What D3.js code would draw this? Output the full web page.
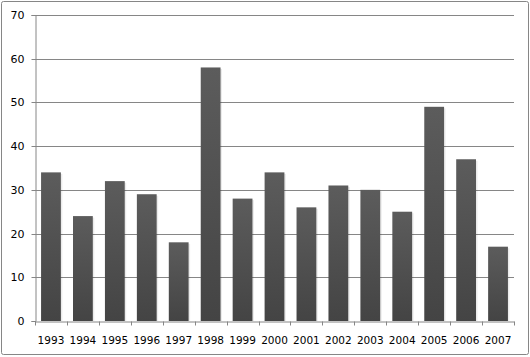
<!DOCTYPE html>
<html><head><meta charset="utf-8">
<script src="https://cdn.jsdelivr.net/npm/d3@7"></script>
<style>body{margin:0;background:#fff}svg{display:block}</style>
</head><body>
<script>
const categories = ["1993","1994","1995","1996","1997","1998","1999","2000","2001","2002","2003","2004","2005","2006","2007"];
const values = [34,24,32,29,18,58,28,34,26,31,30,25,49,37,17];
const yTicks = [0,10,20,30,40,50,60,70];

const W = 530, H = 357;
const m = {left:35, right:16, top:15, bottom:36};
const svg = d3.select("body").append("svg").attr("width",W).attr("height",H);

const defs = svg.append("defs");
const g1 = defs.append("linearGradient").attr("id","barg").attr("x1",0).attr("y1",0).attr("x2",0).attr("y2",1);
g1.append("stop").attr("offset","0%").attr("stop-color","#5c5c5c");
g1.append("stop").attr("offset","100%").attr("stop-color","#444444");

svg.append("rect").attr("x",1.5).attr("y",1.5).attr("width",527).attr("height",353)
  .attr("rx",2).attr("fill","#fff").attr("stroke","#868686");

const x = d3.scaleBand().domain(categories).range([m.left, W-m.right]).paddingInner(0.38).paddingOuter(0.19);
const xt = d3.scaleBand().domain(categories).range([m.left, W-m.right]).padding(0);
const y = d3.scaleLinear().domain([0,70]).range([H-m.bottom, m.top]);

// gridlines
svg.append("g").selectAll("line").data(yTicks.filter(d=>d>0)).join("line")
  .attr("x1",m.left).attr("x2",W-m.right)
  .attr("y1",d=>Math.round(y(d))+0.5).attr("y2",d=>Math.round(y(d))+0.5)
  .attr("stroke","#868686").attr("stroke-width",1);

// bar shadows
svg.append("g").selectAll("rect").data(values).join("rect")
  .attr("x",(d,i)=>x(categories[i])+1.5).attr("y",d=>y(d)+1.5)
  .attr("width",x.bandwidth()).attr("height",d=>y(0)-y(d)-1.5)
  .attr("fill","#000").attr("opacity",0.08);

svg.append("g").selectAll("rect").data(values).join("rect")
  .attr("x",(d,i)=>x(categories[i])).attr("y",d=>y(d))
  .attr("width",x.bandwidth()).attr("height",d=>y(0)-y(d))
  .attr("fill","url(#barg)");

// y axis
const ya = svg.append("g").attr("transform",`translate(${m.left+0.5},0)`)
  .call(d3.axisLeft(y).tickValues(yTicks).tickSize(4).tickPadding(7).tickFormat(d3.format("d")));
ya.select(".domain").attr("stroke","#868686");
ya.selectAll(".tick line").attr("stroke","#868686");
ya.selectAll(".tick").attr("transform",d=>`translate(0,${Math.round(y(d))+0.5})`);
ya.selectAll("text").attr("font-family","DejaVu Sans").attr("font-size","11px").attr("fill","#000");

// x axis
const xa = svg.append("g").attr("transform",`translate(0,${Math.round(y(0))+0.5})`)
  .call(d3.axisBottom(xt).tickSize(0).tickPadding(15));
xa.select(".domain").attr("stroke","#868686");
xa.selectAll(".tick line").remove();
xa.selectAll("text").attr("font-family","DejaVu Sans").attr("font-size","10.5px").attr("fill","#000");
// category boundary ticks
xa.append("g").selectAll("line").data(d3.range(categories.length+1)).join("line")
  .attr("x1",i=>Math.round(m.left+i*xt.step())+0.5).attr("x2",i=>Math.round(m.left+i*xt.step())+0.5)
  .attr("y1",0).attr("y2",4).attr("stroke","#868686");
</script>
</body></html>
